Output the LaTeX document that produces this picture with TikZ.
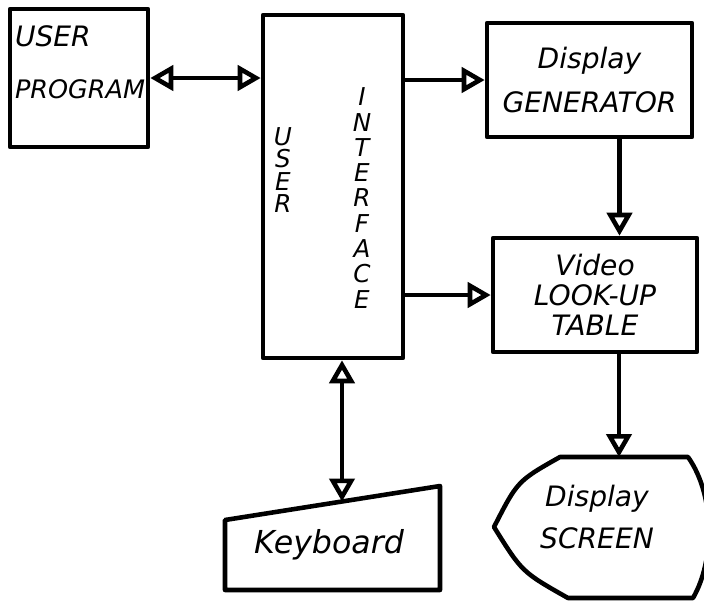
\documentclass[tikz,border=0pt]{standalone}
\usepackage{fontspec}
\setmainfont{DejaVu Sans}
\usetikzlibrary{arrows.meta, positioning, calc}
\tikzset{
  every picture/.style={line width=2.6pt, line join=round},
  hand/.style={align=center, font=\itshape\fontsize{16}{17}\selectfont},
  box/.style={draw, hand, inner sep=4pt},
  arrow/.style={-{Triangle[open, length=4.6mm, width=5mm]}},
  biarrow/.style={{Triangle[open, length=4.6mm, width=5mm]}-{Triangle[open, length=4.6mm, width=5mm]}},
}

\begin{document}
\begin{tikzpicture}
  \useasboundingbox (0,0) rectangle (14.08,-12);
  % boxes
  \node[box, minimum width=2.76cm, minimum height=2.76cm] (up) at (1.58,-1.56) {};
  \node[hand, align=left] (upt) at (1.6,-1.25) {USER\\[0.45cm]{\fontsize{14.5}{15}\selectfont PROGRAM}};
  \node[box, minimum width=2.8cm, minimum height=6.86cm] (ui) at (6.66,-3.73) {};
  \node[hand, font=\itshape\fontsize{14}{12.8}\selectfont] (uiu) at (5.66,-3.4) {U\\S\\E\\R};
  \node[hand, font=\itshape\fontsize{14}{14.4}\selectfont] (uii) at (7.24,-3.96) {I\\N\\T\\E\\R\\F\\A\\C\\E};
  \node[box, minimum width=4.1cm, minimum height=2.28cm] (dg) at (11.79,-1.6) {Display\\[0.3cm]GENERATOR};
  \node[box, minimum width=4.08cm, minimum height=2.28cm] (vlt) at (11.9,-5.9) {Video\\LOOK-UP\\TABLE};
  % keyboard
  \node[hand, font=\itshape\fontsize{18}{19}\selectfont] (kb) at (6.58,-10.9) {Keyboard};
  \draw (4.5,-10.4) -- (8.8,-9.72) -- (8.8,-11.8) -- (4.5,-11.8) -- cycle;
  \coordinate (kbtop) at (6.84,-10.03);
  % display screen
  \node[hand] (scr) at (11.94,-10.34) {Display\\[0.25cm]SCREEN};
  \draw (11.2,-9.14) -- (13.76,-9.14) .. controls (14.3,-9.9) and (14.3,-11.2) .. (13.86,-11.96)
    -- (11.36,-11.96) .. controls (10.44,-11.44) .. (9.88,-10.54) .. controls (10.35,-9.62) .. cycle;
  \coordinate (scrtop) at (12.38,-9.14);
  % connectors
  \draw[biarrow] (up.east) -- (ui.west |- up.east);
  \draw[arrow] (ui.east |- dg) -- (dg.west);
  \draw[arrow] (ui.east |- vlt) -- (vlt.west);
  \draw[arrow] ([xshift=0.6cm]dg.south) -- ([xshift=0.6cm]dg.south |- vlt.north);
  \draw[biarrow] (ui.south -| kbtop) -- (kbtop);
  \draw[arrow] (vlt.south -| scrtop) -- (scrtop);
\end{tikzpicture}
\end{document}
